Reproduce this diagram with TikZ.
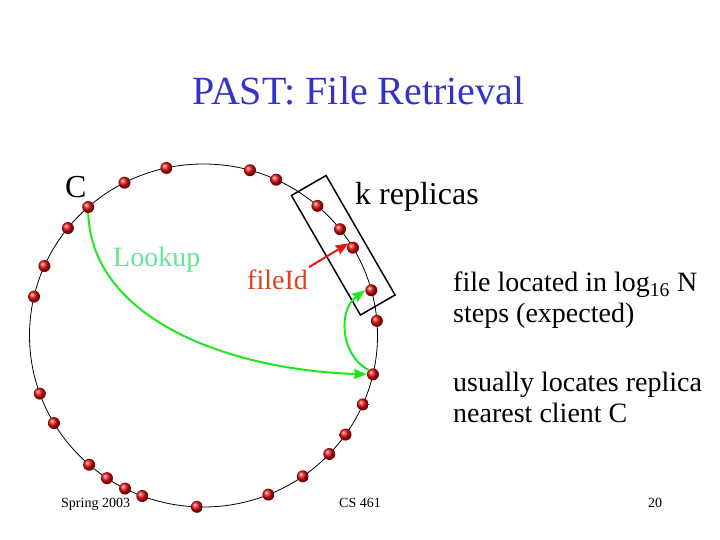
\documentclass[tikz,border=0pt]{standalone}
\usepackage{fontspec}
\setmainfont{Liberation Serif}
\usepackage{xcolor}
\usepackage{tikz}
\usetikzlibrary{arrows.meta}
\definecolor{titleblue}{RGB}{51,51,204}
\definecolor{lookgreen}{RGB}{102,228,150}
\definecolor{fidred}{RGB}{222,66,30}
\definecolor{arrgreen}{RGB}{30,232,30}
\definecolor{arrred}{RGB}{236,20,20}
\definecolor{ballred}{RGB}{225,10,10}
\newcommand{\ttlsize}{\fontsize{40bp}{44bp}\selectfont}
\newcommand{\bigsize}{\fontsize{32bp}{36bp}\selectfont}
\newcommand{\txtsize}{\fontsize{28bp}{32bp}\selectfont}
\newcommand{\footsize}{\fontsize{14bp}{16bp}\selectfont}
\tikzstyle{peer} = [circle,shading=ball,ball color=ballred,inner sep=0pt,minimum size=12bp]
\tikzstyle{txt} = [inner sep=0pt,anchor=base west]
\tikzstyle{arrow} = [line width=2bp,-{Stealth[length=13bp,width=10bp,inset=1.5bp]}]

\begin{document}
\begin{tikzpicture}[x=1bp,y=1bp]
            \path[use as bounding box] (0,0) rectangle (720,540);
            % title
            \node[txt,anchor=base,color=titleblue,font=\ttlsize] (title) at (358.5,435) {PAST: File Retrieval};
            % ring
            \coordinate (ctr) at (203.5,204.5);
            \draw[line width=0.8bp] (ctr) ellipse [x radius=174, y radius=171.5];
            \begin{scope}[shift={(ctr)}]
                \foreach \a [count=\i] in {4.9,15.3,30.8,38.3,49.1,65.3,74.5,102.3,117,131.5,141.2,156.1,166.9,199.8,210.7,228.9,236.3,243.2,249.4,267.8,291.9,304.8,316.3,324.7,336.3,346.9}
                    \node[peer] (p\i) at (\a:174 and 171.5) {};
            \end{scope}
            % replica group
            \node[draw,line width=1.5bp,rotate=-60,minimum width=138bp,minimum height=40bp,inner sep=0pt] (rep) at (343.25,294.75) {};
            % labels
            \node[txt,font=\bigsize] (cl) at (65,342) {C};
            \node[txt,font=\bigsize] (kr) at (355,335) {k replicas};
            \node[txt,font=\txtsize,color=lookgreen] (look) at (113,273) {Lookup};
            \node[txt,font=\txtsize,color=fidred] (fid) at (247,250) {fileId};
            \node[txt,font=\txtsize] (loc1) at (453,248) {file located in log\textsubscript{16} N};
            \node[txt,font=\txtsize] (loc2) at ([yshift=-31bp]loc1.base west) {steps (expected)};
            \node[txt,font=\txtsize] (near1) at (453,148) {usually locates replica};
            \node[txt,font=\txtsize] (near2) at ([yshift=-31bp]near1.base west) {nearest client C};
            % footer
            \node[txt,font=\footsize] (spr) at (61,32) {Spring 2003};
            \node[txt,anchor=base,font=\footsize] (cs) at (360,32) {CS 461};
            \node[txt,anchor=base,font=\footsize] (pg) at (655,32) {20};
            % arrows
            \draw[arrow,color=arrgreen] (p10.south) .. controls (92,220) and (230,170) .. (p26.west);
            \draw[arrow,color=arrgreen] (p26.north west) .. controls (340,185) and (338,230) .. (p2.west);
            \draw[arrow,color=arrred] ([shift={(1bp,3bp)}]fid.north east) -- (p3.north west);
        \end{tikzpicture}
\end{document}
